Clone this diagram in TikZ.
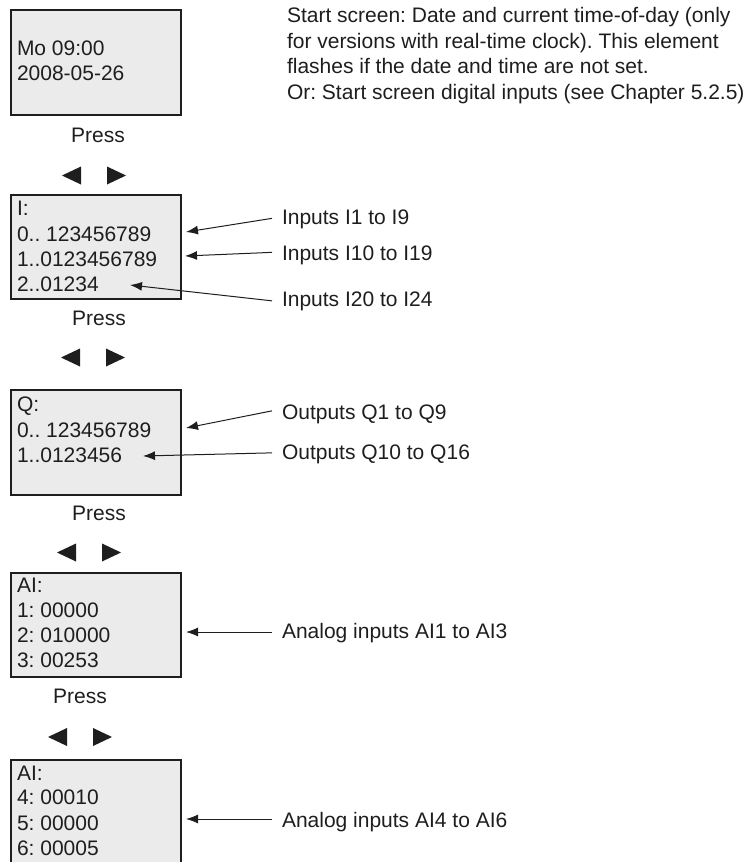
\documentclass[tikz,border=0pt]{standalone}
\usepackage{fontspec}
\setmainfont{Liberation Sans}
\usetikzlibrary{arrows.meta}
\definecolor{scr}{HTML}{EBEBEB}
\definecolor{ink}{HTML}{1E1E1E}
\frenchspacing
\begin{document}
\begin{tikzpicture}[x=1pt,y=-1pt,
  every node/.style={inner sep=0pt,outer sep=0pt,font=\fontsize{21pt}{25pt}\selectfont\frenchspacing,text=ink},
  screen/.style={draw=ink,line width=1.2pt,fill=scr,anchor=north west,minimum width=170pt},
  txt/.style={anchor=base west},
  presslbl/.style={anchor=base},
  callout/.style={draw=ink,line width=1pt,-{Latex[length=12pt,width=9pt]}},
  keys/.pic={\fill[ink] (0,0) -- (19,-9) -- (19,9) -- cycle;
             \fill[ink] (45,-9) -- (45,9) -- (64,0) -- cycle;}]
\useasboundingbox (0,0) rectangle (748,862);

% screen 1
\node[screen,minimum height=105pt] (s1) at (11,10) {};
\node[txt] (s1a) at (17,55) {Mo 09:00};
\node[txt] (s1b) at (17,80) {2008-05-26};
\node[presslbl] (p1) at (98,142) {Press};
\pic at (62,175.5) {keys};

% right description
\node[txt] (d1) at (287,22.5) {Start screen: Date and current time-of-day (only};
\node[txt] (d2) at (287,48) {for versions with real-time clock). This element};
\node[txt] (d3) at (287,73.5) {flashes if the date and time are not set.};
\node[txt] (d4) at (287,99) {Or: Start screen digital inputs (see Chapter 5.2.5)};

% screen 2
\node[screen,minimum height=104pt] (s2) at (11,195) {};
\node[txt] (s2a) at (17,215) {I:};
\node[txt] (s2b) at (17,241) {0.. 123456789};
\node[txt] (s2c) at (17,266) {1..0123456789};
\node[txt] (s2d) at (17,291) {2..01234};
\node[presslbl] (p2) at (99,325) {Press};
\pic at (61,357.5) {keys};

\node[txt] (l1) at (282,224.5) {Inputs I1 to I9};
\node[txt] (l2) at (282,260.5) {Inputs I10 to I19};
\node[txt] (l3) at (282,306) {Inputs I20 to I24};
\coordinate (t1) at (186,232);
\coordinate (t2) at (185,256);
\coordinate (t3) at (130,285);
\draw[callout] ([xshift=-10pt,yshift=1pt]l1.west) -- (t1);
\draw[callout] ([xshift=-10pt,yshift=3pt]l2.west) -- (t2);
\draw[callout] ([xshift=-10pt]l3.west) -- (t3);

% screen 3
\node[screen,minimum height=105pt] (s3) at (11,390) {};
\node[txt] (s3a) at (17,411) {Q:};
\node[txt] (s3b) at (17,437) {0.. 123456789};
\node[txt] (s3c) at (17,462) {1..0123456};
\node[presslbl] (p3) at (99,520) {Press};
\pic at (57,552.5) {keys};

\node[txt] (l4) at (282,419) {Outputs Q1 to Q9};
\node[txt] (l5) at (282,459) {Outputs Q10 to Q16};
\coordinate (t4) at (186,428);
\coordinate (t5) at (143,456);
\draw[callout] ([xshift=-10pt,yshift=3pt]l4.west) -- (t4);
\draw[callout] ([xshift=-10pt,yshift=1pt]l5.west) -- (t5);

% screen 4
\node[screen,minimum height=104pt] (s4) at (11,573) {};
\node[txt] (s4a) at (17,592) {AI:};
\node[txt] (s4b) at (17,617) {1: 00000};
\node[txt] (s4c) at (17,642) {2: 010000};
\node[txt] (s4d) at (17,667) {3: 00253};
\node[presslbl] (p4) at (80,703) {Press};
\pic at (48,737) {keys};

\node[txt] (l6) at (282,638) {Analog inputs AI1 to AI3};
\coordinate (t6) at (186,632);
\draw[callout] ([xshift=-10pt]l6.west |- t6) -- (t6);

% screen 5
\node[screen,minimum height=115pt] (s5) at (11,760) {};
\node[txt] (s5a) at (17,780) {AI:};
\node[txt] (s5b) at (17,804) {4: 00010};
\node[txt] (s5c) at (17,830) {5: 00000};
\node[txt] (s5d) at (17,855) {6: 00005};

\node[txt] (l7) at (282,827) {Analog inputs AI4 to AI6};
\coordinate (t7) at (186,819);
\draw[callout] ([xshift=-10pt]l7.west |- t7) -- (t7);
\end{tikzpicture}
\end{document}
